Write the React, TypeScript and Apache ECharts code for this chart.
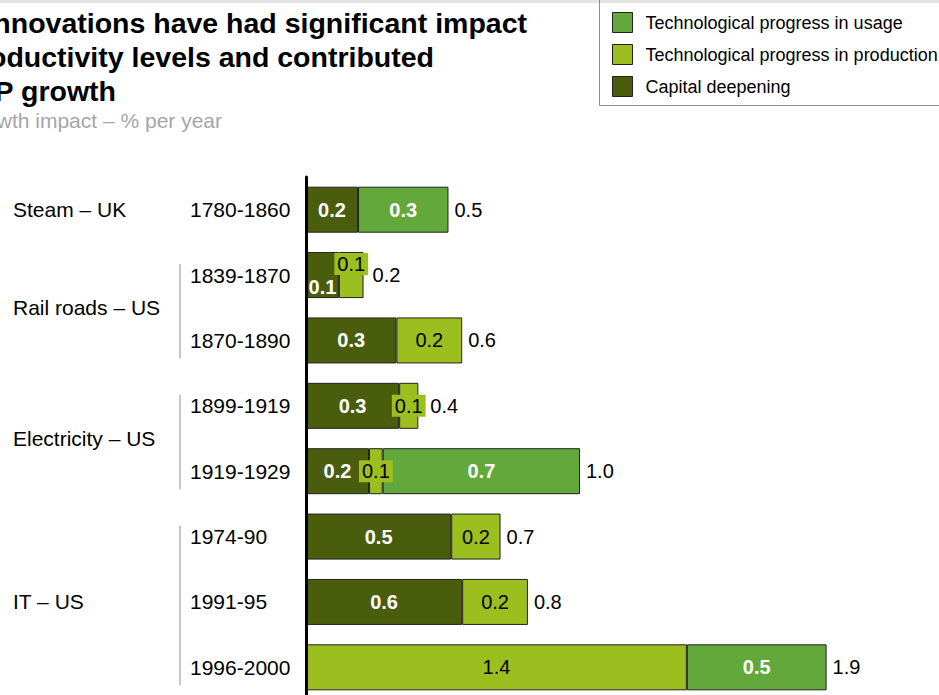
import React, { useEffect, useRef } from "react";
import * as echarts from "echarts";

const periods = ["1780-1860", "1839-1870", "1870-1890", "1899-1919", "1919-1929", "1974-90", "1991-95", "1996-2000"];
const capitalDeepening = [0.19, 0.12, 0.33, 0.34, 0.23, 0.53, 0.57, null];
const techProduction = [null, 0.09, 0.24, 0.07, 0.05, 0.18, 0.24, 1.39];
const techUsage = [0.33, null, null, null, 0.72, null, null, 0.51];

const groupNames = ["Steam – UK", "Rail roads – US", "Electricity – US", "IT – US"];
const groupFirst = [0, 1, 3, 5];
const groupLast = [0, 2, 4, 7];

const titleLines = ["Innovations have had significant impact", "on productivity levels and contributed", "to GDP growth"];
const subtitle = "Growth impact – % per year";
const seriesNames = ["Capital deepening", "Technological progress in production", "Technological progress in usage"];

const FONT = '"Liberation Sans", Arial, sans-serif';
const C_CAP = "#4a5d0d";
const C_PROD = "#9cbe1e";
const C_USE = "#63a83a";

const fmt = (v: number) => (Math.round(v * 10) / 10).toFixed(1);

export default function App() {
  const ref = useRef<HTMLDivElement>(null);
  useEffect(() => {
    if (!ref.current) return;
    const chart = echarts.init(ref.current, null, { renderer: "svg" });
    const totals = periods.map((_, i) => (capitalDeepening[i] || 0) + (techProduction[i] || 0) + (techUsage[i] || 0));

    const whiteLabel = {
      show: true,
      position: "inside",
      color: "#fff",
      fontWeight: "bold",
      fontSize: 20,
      fontFamily: FONT,
      formatter: (p: any) => fmt(p.value),
    };

    const capData = capitalDeepening.map((v, i) =>
      i === 1 ? { value: v, label: { offset: [0, 12] } } : v
    );
    const prodData = techProduction.map((v, i) =>
      i === 1 ? { value: v, label: { offset: [0, -11] } } : v
    );
    // totals whose small production label sticks out get a wider gap
    const totalData = totals.map((v, i) =>
      i === 1 ? { value: v, label: { distance: 9 } } : i === 3 ? { value: v, label: { distance: 12 } } : v
    );

    chart.setOption({
      animation: false,
      grid: { left: 306, top: 177, width: 548, height: 523, containLabel: false },
      xAxis: { type: "value", min: 0, max: 2, show: false },
      yAxis: {
        type: "category",
        inverse: true,
        data: periods,
        z: 10,
        axisTick: { show: false },
        axisLine: { lineStyle: { color: "#000", width: 3 } },
        axisLabel: { align: "left", margin: 116, fontSize: 21, color: "#000", fontFamily: FONT },
        splitLine: { show: false },
      },
      legend: {
        orient: "vertical",
        left: 612,
        top: 12,
        padding: 0,
        itemWidth: 20,
        itemHeight: 20,
        itemGap: 11,
        icon: "rect",
        data: [seriesNames[2], seriesNames[1], seriesNames[0]],
        itemStyle: { borderColor: "#222", borderWidth: 1 },
        textStyle: { fontSize: 18, lineHeight: 20, color: "#000", fontFamily: FONT, padding: [0, 0, 0, 8] },
        selectedMode: false,
      },
      series: [
        {
          name: seriesNames[0],
          type: "bar",
          stack: "a",
          barWidth: 46,
          data: capData,
          itemStyle: { color: C_CAP, borderColor: "#222", borderWidth: 1 },
          label: whiteLabel,
        },
        {
          name: seriesNames[1],
          type: "bar",
          stack: "a",
          barWidth: 46,
          data: prodData,
          itemStyle: { color: C_PROD, borderColor: "#222", borderWidth: 1 },
          label: {
            show: true,
            position: "inside",
            color: "#000",
            fontSize: 20,
            fontFamily: FONT,
            backgroundColor: C_PROD,
            padding: [1, 3],
            formatter: (p: any) => fmt(p.value),
          },
        },
        {
          name: seriesNames[2],
          type: "bar",
          stack: "a",
          barWidth: 46,
          data: techUsage,
          itemStyle: { color: C_USE, borderColor: "#222", borderWidth: 1 },
          label: whiteLabel,
        },
        {
          name: "Total",
          type: "bar",
          barWidth: 46,
          barGap: "-100%",
          z: 1,
          silent: true,
          data: totalData,
          itemStyle: { color: "rgba(0,0,0,0)", borderWidth: 0 },
          label: {
            show: true,
            position: "right",
            distance: 6,
            color: "#000",
            fontSize: 20,
            fontFamily: FONT,
            formatter: (p: any) => fmt(p.value),
          },
        },
      ],
    });

    const yOf = (i: number) => chart.convertToPixel({ yAxisIndex: 0 }, i) as number;
    const graphics: any[] = [];
    graphics.push({ type: "rect", shape: { x: 0, y: 0, width: 939, height: 3 }, style: { fill: "#e4e4e4" }, silent: true });
    graphics.push({
      type: "rect",
      shape: { x: 599.5, y: -2, width: 400, height: 107.5 },
      style: { fill: "none", stroke: "#8c8c8c", lineWidth: 1 },
      silent: true,
    });
    const titleRight = [527, 434, 116];
    const titleY = [23, 57, 91];
    titleLines.forEach((t, k) => {
      graphics.push({
        type: "text",
        x: titleRight[k],
        y: titleY[k],
        style: { text: t, fill: "#000", fontSize: 28.5, fontWeight: "bold", fontFamily: FONT, textAlign: "right", textVerticalAlign: "middle" },
      });
    });
    graphics.push({
      type: "text",
      x: 222,
      y: 120,
      style: { text: subtitle, fill: "#a6a6a6", fontSize: 21, fontFamily: FONT, textAlign: "right", textVerticalAlign: "middle" },
    });
    groupNames.forEach((g, k) => {
      const y1 = yOf(groupFirst[k]);
      const y2 = yOf(groupLast[k]);
      graphics.push({
        type: "text",
        x: 13,
        y: (y1 + y2) / 2,
        style: { text: g, fill: "#000", fontSize: 21, fontFamily: FONT, textAlign: "left", textVerticalAlign: "middle" },
      });
      if (groupLast[k] > groupFirst[k]) {
        graphics.push({
          type: "line",
          shape: { x1: 180, y1: y1 - 11, x2: 180, y2: y2 + 18 },
          style: { stroke: "#b5b5b5", lineWidth: 1.5 },
          silent: true,
        });
      }
    });
    chart.setOption({ graphic: graphics });

    return () => chart.dispose();
  }, []);
  return <div ref={ref} style={{ position: "fixed", left: 0, top: 0, width: 939, height: 720, background: "#fff" }} />;
}
